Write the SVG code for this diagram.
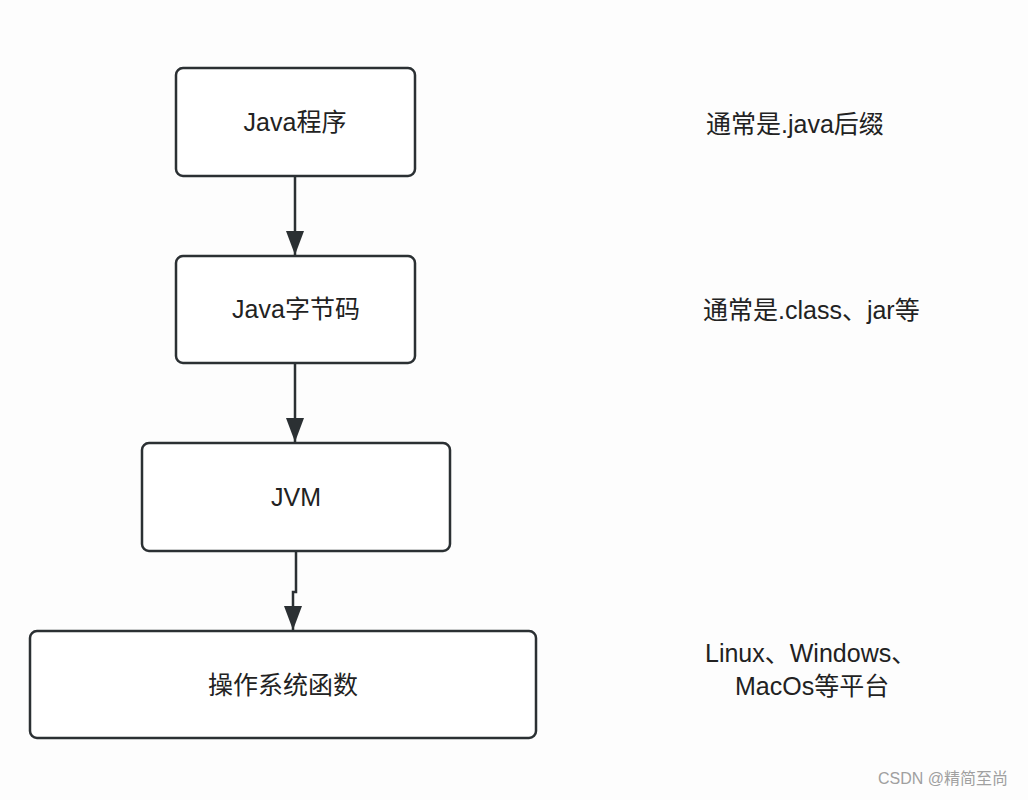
<svg xmlns="http://www.w3.org/2000/svg" width="1028" height="800" viewBox="0 0 1028 800">
<defs>
<style>
.box{fill:#ffffff;stroke:#2b3033;stroke-width:2.5}
.t{font-family:"Liberation Sans","Noto Sans CJK SC",sans-serif;font-size:25px;fill:#222}
.c{text-anchor:middle}
.edge{fill:none;stroke:#2b3033;stroke-width:2.5}
.wm{font-family:"Liberation Sans","Noto Sans CJK SC",sans-serif;font-size:16px;fill:#a0a0a0}
</style>
<marker id="arr" viewBox="0 0 24 18" refX="24" refY="9" markerWidth="24" markerHeight="18" markerUnits="userSpaceOnUse" orient="auto">
<path d="M0,0 L24,9 L0,18 Z" fill="#2b3033"/>
</marker>
</defs>
<rect width="1028" height="800" fill="#fdfdfd"/>
<g id="edges">
<path class="edge" d="M295,176 L295,255" marker-end="url(#arr)"/>
<path class="edge" d="M295,363 L295,442" marker-end="url(#arr)"/>
<path class="edge" d="M296,551 L296,592 L293,592 L293,630" marker-end="url(#arr)"/>
</g>
<g id="n1"><rect class="box" x="176" y="68" width="239" height="108" rx="7"/><text class="t c" x="295" y="131">Java程序</text></g>
<g id="n2"><rect class="box" x="176" y="256" width="239" height="107" rx="7"/><text class="t c" x="296" y="318">Java字节码</text></g>
<g id="n3"><rect class="box" x="142" y="443" width="308" height="108" rx="7"/><text class="t c" x="296" y="506">JVM</text></g>
<g id="n4"><rect class="box" x="30" y="631" width="506" height="107" rx="7"/><text class="t c" x="283" y="694">操作系统函数</text></g>
<g id="labels">
<text class="t" x="706" y="133">通常是.java后缀</text>
<text class="t" x="703" y="319">通常是.class、jar等</text>
<text class="t" x="705" y="662">Linux、Windows、</text>
<text class="t" x="735" y="695">MacOs等平台</text>
</g>
<text class="wm" x="878" y="784">CSDN @精简至尚</text>
</svg>
